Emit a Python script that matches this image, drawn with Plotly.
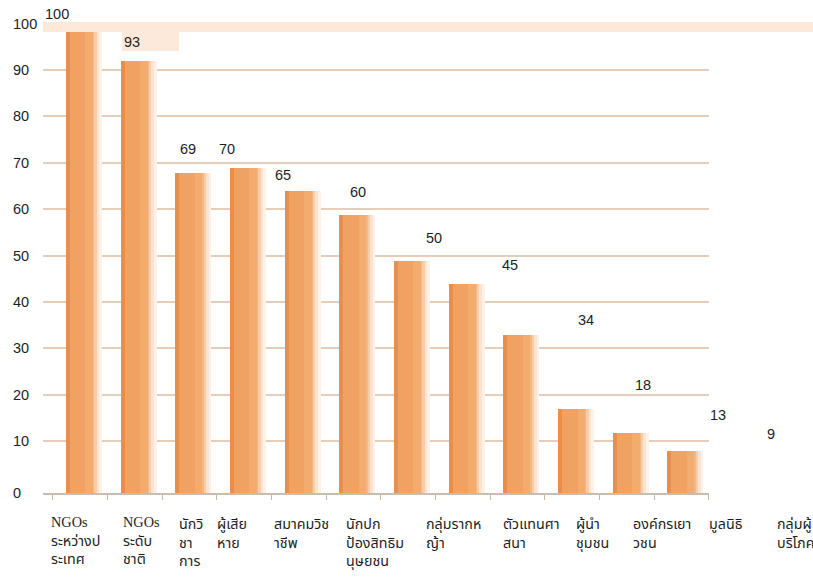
import plotly.graph_objects as go

# ---------------- data ----------------
CATEGORIES = [
    "NGOs<br>ระหว่างป<br>ระเทศ",
    "NGOs<br>ระดับ<br>ชาติ",
    "นักวิ<br>ชา<br>การ",
    "ผู้เสีย<br>หาย",
    "สมาคมวิช<br>าชีพ",
    "นักปก<br>ป้องสิทธิม<br>นุษยชน",
    "กลุ่มรากห<br>ญ้า",
    "ตัวแทนศา<br>สนา",
    "ผู้นำ<br>ชุมชน",
    "องค์กรเยา<br>วชน",
    "มูลนิธิ",
    "กลุ่มผู้<br>บริโภค",
]
VALUES = [100, 93, 69, 70, 65, 60, 50, 45, 34, 18, 13, 9]
Y_TICKS = [0, 10, 20, 30, 40, 50, 60, 70, 80, 90, 100]

# ---------------- layout constants (pixels) ----------------
W, H = 813, 577
PL, PR, PT, PB = 43, 709, 22, 493          # plot area edges
CAT_W_PX = 54.67                           # pixel width of one category
FIRST_CENTER_PX = 80                       # pixel centre of first category
CAT_LABEL_LEFT = [50, 122, 178, 216, 273, 345, 425, 502, 575, 632, 708, 776]
CAT_LABEL_TOP = 513
VAL_LABEL_POS = [(43, 14), (122, 42), (178, 149), (217, 149), (273, 175),
                 (348, 192), (424, 238), (500, 265), (576, 320), (633, 385),
                 (708, 415), (765, 434)]

def px_x(px):
    return (px - PL) / (PR - PL)

def px_y(py):
    return (PB - py) / (PB - PT)

TXT = "#1e1e1e"
NUM_FONT = dict(family="Liberation Sans, Arial, sans-serif", size=14.5, color=TXT)
THAI_FONT = dict(family="Noto Sans Thai, Noto Sans Thai Looped, Loma, Garuda, Tahoma, Noto Sans, sans-serif",
                 size=14.3, color=TXT)

x = list(range(len(VALUES)))

fig = go.Figure()

# bar layers (3D-like look: fading shadow to the right, darker left edge)
layers = [
    (-0.256, 0.66, "#fdf2e9"),
    (-0.256, 0.61, "#fae3d0"),
    (-0.256, 0.56, "#f5cdaa"),
    (-0.256, 0.52, "#f2b987"),
    (-0.256, 0.494, "#f0a262"),
    (-0.256, 0.07, "#ea8f4b"),
    (0.10, 0.138, "#f2ac70"),
]
for off, wd, col in layers:
    fig.add_trace(go.Bar(
        x=x, y=VALUES, offset=off, width=wd,
        marker=dict(color=col, line=dict(width=0)),
        showlegend=False, hoverinfo="skip", yaxis="y",
    ))

# dummy trace to activate the grid axis
fig.add_trace(go.Scatter(x=[None], y=[None], yaxis="y2", showlegend=False, hoverinfo="skip"))

annotations = []
# y tick labels (left aligned)
for t in Y_TICKS:
    annotations.append(dict(
        x=px_x(11), xref="paper", xanchor="left",
        y=t, yref="y" if t == 0 else "y2", yanchor="middle",
        text=str(t), showarrow=False, font=NUM_FONT,
    ))
# value labels
for v, (lx, ly) in zip(VALUES, VAL_LABEL_POS):
    annotations.append(dict(
        x=px_x(lx), xref="paper", xanchor="left",
        y=px_y(ly), yref="paper", yanchor="middle",
        text=str(v), showarrow=False, font=NUM_FONT,
    ))
# category labels
for lab, lx in zip(CATEGORIES, CAT_LABEL_LEFT):
    txt = lab.replace("NGOs", '<span style="font-family:Liberation Serif, Times New Roman, serif">NGOs</span>')
    annotations.append(dict(
        x=px_x(lx), xref="paper", xanchor="left",
        y=px_y(CAT_LABEL_TOP), yref="paper", yanchor="top",
        text=txt, showarrow=False, align="left", font=THAI_FONT,
        borderpad=0,
    ))

shapes = [
    dict(type="rect", xref="paper", yref="paper",
         x0=0, x1=px_x(813), y0=px_y(32), y1=px_y(22),
         fillcolor="#fce9d9", line=dict(width=0), layer="above"),
    dict(type="rect", xref="paper", yref="paper",
         x0=px_x(122), x1=px_x(179), y0=px_y(51), y1=px_y(32),
         fillcolor="#fce9d9", line=dict(width=0), layer="above"),
]

# scale: bars 0 at baseline; grid slightly offset as in the picture
bar_scale = 4.64
grid_scale = 4.6375
grid_lo = 10 - (PB - 441) / grid_scale
grid_hi = grid_lo + (PB - PT) / grid_scale

x_lo = -(FIRST_CENTER_PX - PL) / CAT_W_PX
x_hi = x_lo + (PR - PL) / CAT_W_PX

fig.update_layout(
    width=W, height=H, autosize=False,
    margin=dict(l=PL, r=W - PR, t=PT, b=H - PB, pad=0),
    paper_bgcolor="white", plot_bgcolor="white",
    barmode="overlay", bargap=0,
    xaxis=dict(
        range=[x_lo, x_hi],
        tickmode="array", tickvals=[i - 0.5 for i in range(len(VALUES) + 1)],
        showticklabels=False, ticks="outside", ticklen=5, tickwidth=1.2,
        tickcolor="#c9b8a6", showline=True, linecolor="#c9bdb0", linewidth=1.5,
        showgrid=False, zeroline=False, fixedrange=True,
    ),
    yaxis=dict(
        range=[0, (PB - PT) / bar_scale], showgrid=False, zeroline=False,
        showticklabels=False, showline=False, fixedrange=True,
    ),
    yaxis2=dict(
        range=[grid_lo, grid_hi], overlaying="y", side="left",
        tickmode="array", tickvals=Y_TICKS[1:], showticklabels=False,
        showgrid=True, gridcolor="#e4ceb9", gridwidth=1.5,
        zeroline=False, showline=False, fixedrange=True,
    ),
    annotations=annotations,
    shapes=shapes,
)

fig.write_html("out.html")
